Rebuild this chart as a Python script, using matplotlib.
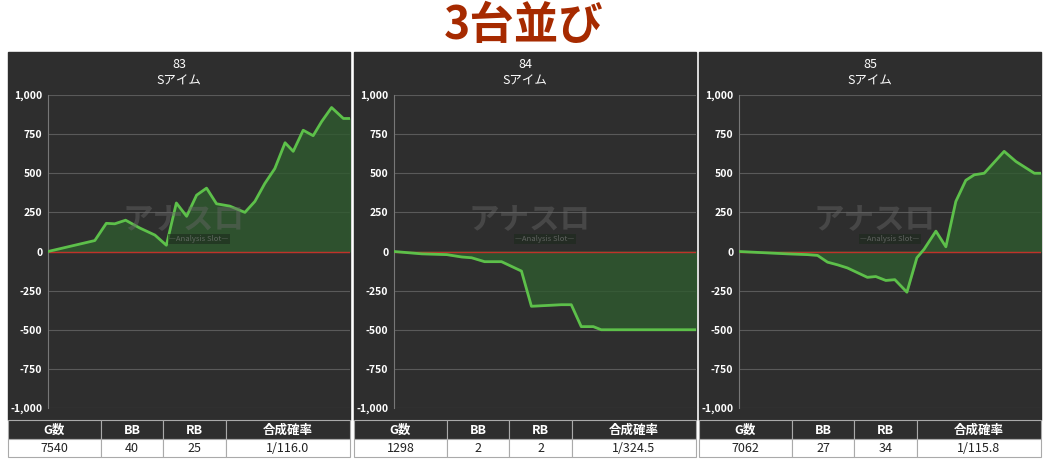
import matplotlib
matplotlib.use("Agg")
import matplotlib.pyplot as plt
from matplotlib.patches import Rectangle

plt.rcParams['font.family'] = ['Noto Sans CJK JP', 'DejaVu Sans']

W, H = 1047, 466

# data (x = fraction of games played, y = diff coins)
machines = ["83", "84", "85"]
names = ["Sアイム", "Sアイム", "Sアイム"]
x1 = [0, .155, .193, .221, .257, .304, .354, .392, .425, .459, .492, .525, .558, .602, .652, .685,
      .718, .751, .785, .812, .845, .878, .906, .939, .978, 1.0]
y1 = [0, 70, 180, 177, 200, 150, 105, 40, 310, 225, 360, 405, 305, 290, 250, 320,
      435, 530, 695, 640, 775, 740, 830, 920, 850, 850]
x2 = [0, .092, .175, .224, .257, .300, .356, .422, .455, .505, .554, .587, .620, .660, .686, 1.0]
y2 = [0, -15, -20, -35, -40, -65, -65, -125, -350, -345, -340, -340, -480, -480, -500, -500]
x3 = [0, .160, .227, .260, .293, .326, .359, .392, .425, .453, .486, .516, .556, .589, .613,
      .652, .685, .718, .751, .779, .812, .878, .917, .978, 1.0]
y3 = [0, -15, -20, -25, -68, -85, -105, -135, -165, -160, -185, -180, -260, -40, 15,
      130, 30, 320, 455, 490, 500, 640, 575, 500, 500]
xs = [x1, x2, x3]
ys = [y1, y2, y3]

headers = ["G数", "BB", "RB", "合成確率"]
rows = [["7540", "40", "25", "1/116.0"],
        ["1298", "2", "2", "1/324.5"],
        ["7062", "27", "34", "1/115.8"]]

fig = plt.figure(figsize=(W / 100, H / 100), dpi=100)
fig.text(0.5, 1 - 26 / H, "3台並び", ha='center', va='center', fontsize=32,
         fontweight='bold', color='#a62a00')

panel_x = [8, 354, 699]
panel_w = 342
col_w = [93, 62, 63, 124]

def fx(p):
    return p / W

def fy(p):
    return 1 - p / H

for i in range(3):
    px = panel_x[i]
    # dark panel background
    fig.patches.append(Rectangle((fx(px), fy(420)), fx(panel_w), (420 - 52) / H,
                                 transform=fig.transFigure, color='#2e2e2e', zorder=-10))
    fig.text(fx(px + panel_w / 2), fy(65), machines[i], ha='center', va='center',
             color='white', fontsize=9)
    fig.text(fx(px + panel_w / 2), fy(81), names[i], ha='center', va='center',
             color='white', fontsize=9)
    ax = fig.add_axes([fx(px + 40), fy(408), fx(panel_w - 40), (408 - 95) / H])
    ax.set_facecolor('#2e2e2e')
    ax.set_xlim(0, 1)
    ax.set_ylim(-1000, 1000)
    ax.set_yticks(range(-1000, 1001, 250))
    ax.set_yticklabels([f"{v:,}" for v in range(-1000, 1001, 250)])
    ax.tick_params(axis='y', colors='white', labelsize=7.5, length=0, pad=4)
    for lab in ax.get_yticklabels():
        lab.set_fontweight('bold')
    ax.set_xticks([])
    ax.grid(axis='y', color='#5a5a5a', lw=0.8)
    ax.set_axisbelow(True)
    for s in ax.spines.values():
        s.set_visible(False)
    ax.spines['left'].set_visible(True)
    ax.spines['left'].set_color('#777777')
    ax.axhline(0, color='#c0322a', lw=1, zorder=2)
    ax.fill_between(xs[i], ys[i], 0, color='#2f5a2f', alpha=0.8, zorder=1)
    ax.plot(xs[i], ys[i], color='#5dc04a', lw=2, zorder=3)
    ax.text(0.45, 0.6, "アナスロ", transform=ax.transAxes, ha='center', va='center',
            fontsize=22, fontweight='bold', color='#666666', alpha=0.45, zorder=4)
    ax.text(0.5, 0.54, "—Analysis Slot—", transform=ax.transAxes, ha='center', va='center',
            fontsize=5.5, color='#888888', alpha=0.6, zorder=4,
            bbox=dict(facecolor='#1c2a1c', edgecolor='none', alpha=0.6, pad=1))

    # table
    cx = px
    for j in range(4):
        fig.patches.append(Rectangle((fx(cx), fy(439)), fx(col_w[j]), 19 / H,
                                     transform=fig.transFigure, facecolor='#2e2e2e',
                                     edgecolor='#aaaaaa', lw=0.8))
        fig.patches.append(Rectangle((fx(cx), fy(457)), fx(col_w[j]), 18 / H,
                                     transform=fig.transFigure, facecolor='white',
                                     edgecolor='#aaaaaa', lw=0.8))
        fig.text(fx(cx + col_w[j] / 2), fy(430), headers[j], ha='center', va='center',
                 color='white', fontsize=9, fontweight='bold')
        fig.text(fx(cx + col_w[j] / 2), fy(448), rows[i][j], ha='center', va='center',
                 color='#222222', fontsize=9)
        cx += col_w[j]

fig.savefig("out.png", dpi=100, facecolor='white')
